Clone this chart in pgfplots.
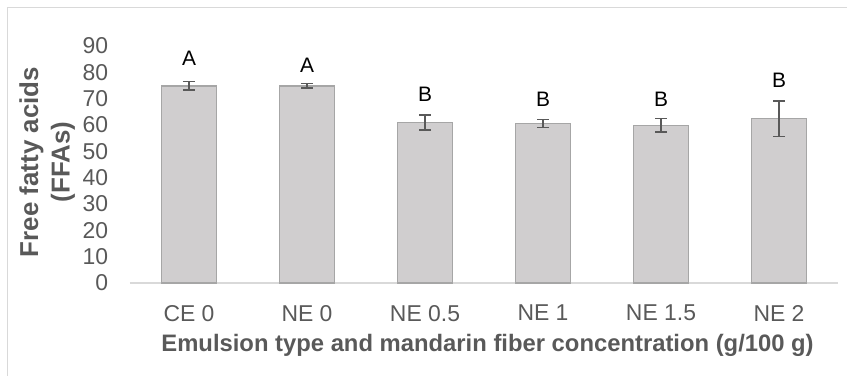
\documentclass[border=0pt]{standalone}
\usepackage{fontspec}
\setmainfont{Liberation Sans}
\usepackage{pgfplots}
\pgfplotsset{compat=1.18}
\definecolor{barfill}{RGB}{208,206,207}
\definecolor{baredge}{RGB}{166,166,166}
\definecolor{errcol}{RGB}{89,89,89}
\definecolor{txtgray}{RGB}{89,89,89}
\definecolor{axgray}{RGB}{217,217,217}
\begin{document}
\begin{tikzpicture}
\begin{axis}[
  at={(0,0)}, anchor=south west,
  scale only axis,
  width=708bp, height=237bp,
  xmin=-0.5, xmax=5.5,
  ymin=0, ymax=90,
  ytick={0,10,...,90},
  xtick=data,
  xticklabels={CE 0, NE 0, NE 0.5, NE 1, NE 1.5, NE 2},
  axis x line=bottom, axis y line=left,
  y axis line style={draw=none},
  x axis line style={-, draw=axgray, line width=1.3bp},
  major tick length=0pt,
  tick style={draw=none},
  /pgf/number format/assume math mode=true,
  ticklabel style={font=\fontsize{23}{23}\selectfont, text=txtgray},
  yticklabel style={anchor=east, inner sep=0pt, xshift=-21.7bp},
  xticklabel style={anchor=north, inner sep=0pt, yshift=-22bp},
  xlabel={Emulsion type and mandarin fiber concentration (g/100 g)},
  xlabel style={at={(axis description cs:0.505,0)}, anchor=north, inner sep=0pt, yshift=-51.5bp,
    font=\fontsize{23.9}{23.9}\selectfont\bfseries, text=txtgray},
  ylabel={Free fatty acids\\(FFAs)},
  ylabel style={at={(axis description cs:-0.117,0.51)}, anchor=center, align=center,
    font=\fontsize{26}{31.7}\selectfont\bfseries, text=txtgray},
  clip=false,
]
\addplot[ybar, bar width=55bp, fill=barfill, draw=baredge, line width=1.5bp,
  error bars/.cd, y dir=both, y explicit,
  error bar style={color=errcol, line width=1.5bp},
  error mark options={rotate=90, mark size=6bp, line width=1.5bp, color=errcol}]
  table[x=x, y=y, y error=e] {
x y e
0 74.9 1.6
1 74.9 0.8
2 60.9 2.85
3 60.5 1.5
4 59.9 2.5
5 62.4 6.8
};
\node[font=\fontsize{21}{21}\selectfont] at (axis cs:0,85.4) {A};
\node[font=\fontsize{21}{21}\selectfont] at (axis cs:1,82.6) {A};
\node[font=\fontsize{21}{21}\selectfont] at (axis cs:2,71.8) {B};
\node[font=\fontsize{21}{21}\selectfont] at (axis cs:3,69.9) {B};
\node[font=\fontsize{21}{21}\selectfont] at (axis cs:4,69.9) {B};
\node[font=\fontsize{21}{21}\selectfont] at (axis cs:5,76.9) {B};
\end{axis}
\pgfresetboundingbox
\path[use as bounding box] (-130bp,-93bp) rectangle (717bp,283bp);
\draw[axgray, line width=1.2bp] (-122.3bp,-93bp) -- (-122.3bp,275.7bp) -- (717bp,275.7bp);
\end{tikzpicture}
\end{document}
